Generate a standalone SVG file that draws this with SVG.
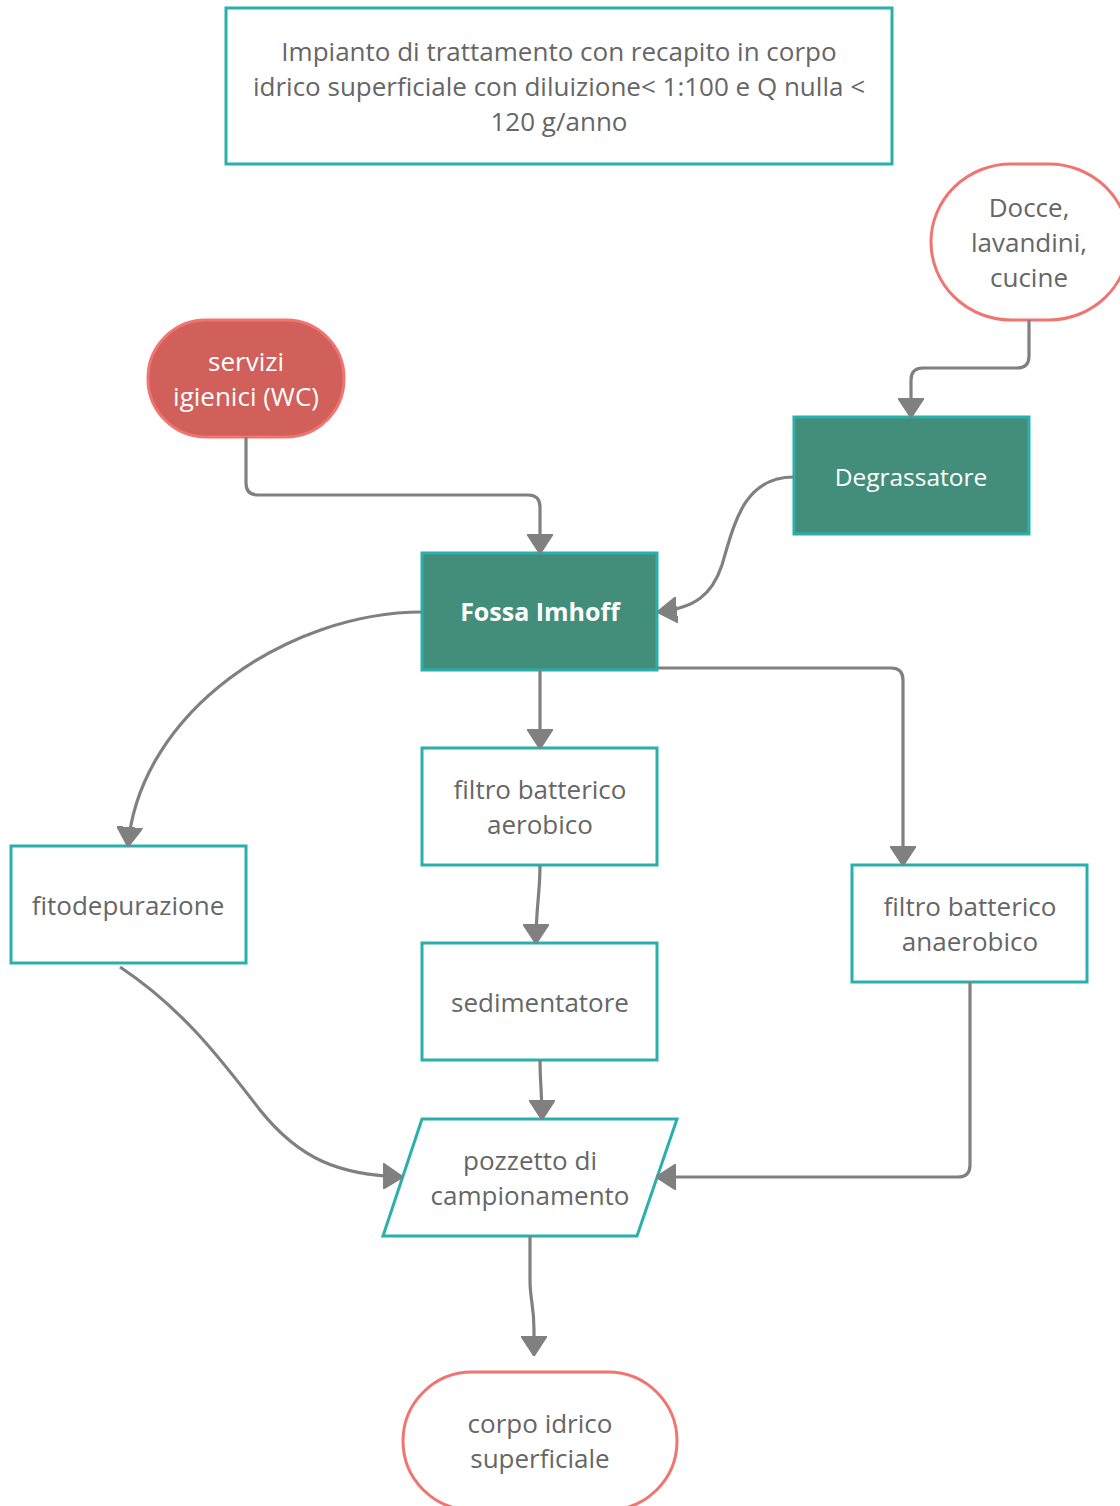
<svg xmlns="http://www.w3.org/2000/svg" width="1120" height="1506" viewBox="0 0 1120 1506">
<defs>
<marker id="arr" markerUnits="userSpaceOnUse" viewBox="0 0 20 26" refX="19" refY="13" markerWidth="20" markerHeight="26" orient="auto">
<path d="M0,0 L20,13 L0,26 Z" fill="#808080" stroke="#808080" stroke-width="1.5" stroke-linejoin="round"/>
</marker>
<style>
.t{font-family:"Open Sans","Noto Sans","Liberation Sans",sans-serif;font-size:26px;fill:#666666;text-anchor:middle}
.w{fill:#ffffff}
.b{font-weight:bold;font-size:25px}
.box{fill:#ffffff;stroke:#2ab0ac;stroke-width:3}
.dark{fill:#438e7a;stroke:#2ab0ac;stroke-width:3}
.term{fill:#ffffff;stroke:#f07470;stroke-width:3}
.red{fill:#d15f5a;stroke:#f07470;stroke-width:3}
.c{fill:none;stroke:#808080;stroke-width:3.2;marker-end:url(#arr)}
</style>
</defs>
<rect width="1120" height="1506" fill="#ffffff"/>
<g id="title">
<rect class="box" x="226" y="8" width="666" height="156"/>
<text class="t" x="559" y="61">Impianto di trattamento con recapito in corpo</text>
<text class="t" x="559" y="96">idrico superficiale con diluizione&lt; 1:100 e Q nulla &lt;</text>
<text class="t" x="559" y="131">120 g/anno</text>
</g>
<g id="docce">
<rect class="term" x="931" y="164" width="198" height="156" rx="80" ry="78"/>
<text class="t" x="1029" y="217">Docce,</text>
<text class="t" x="1029" y="252">lavandini,</text>
<text class="t" x="1029" y="287">cucine</text>
</g>
<g id="servizi">
<rect class="red" x="148" y="320" width="196" height="117" rx="58" ry="58"/>
<text class="t w" x="246" y="371">servizi</text>
<text class="t w" x="246" y="406">igienici (WC)</text>
</g>
<g id="degrassatore">
<rect class="dark" x="794" y="417" width="235" height="117"/>
<text class="t w" x="911" y="486" style="font-size:24.5px">Degrassatore</text>
</g>
<g id="fossa">
<rect class="dark" x="422" y="553" width="235" height="117"/>
<text class="t w b" x="540" y="621">Fossa Imhoff</text>
</g>
<g id="aerobico">
<rect class="box" x="422" y="748" width="235" height="117"/>
<text class="t" x="540" y="799">filtro batterico</text>
<text class="t" x="540" y="834">aerobico</text>
</g>
<g id="fitodepurazione">
<rect class="box" x="11" y="846" width="235" height="117"/>
<text class="t" x="128" y="915">fitodepurazione</text>
</g>
<g id="anaerobico">
<rect class="box" x="852" y="865" width="235" height="117"/>
<text class="t" x="970" y="916">filtro batterico</text>
<text class="t" x="970" y="951">anaerobico</text>
</g>
<g id="sedimentatore">
<rect class="box" x="422" y="943" width="235" height="117"/>
<text class="t" x="540" y="1012">sedimentatore</text>
</g>
<g id="pozzetto">
<polygon class="box" points="422,1119 677,1119 637,1236 383,1236"/>
<text class="t" x="530" y="1170">pozzetto di</text>
<text class="t" x="530" y="1205">campionamento</text>
</g>
<g id="corpo">
<rect class="term" x="403" y="1372" width="274" height="138" rx="69" ry="69"/>
<text class="t" x="540" y="1433">corpo idrico</text>
<text class="t" x="540" y="1468">superficiale</text>
</g>
<g id="connectors">
<path class="c" d="M1029,320 V356 Q1029,368 1017,368 H923 Q911,368 911,380 V417"/>
<path class="c" d="M246,437 V483 Q246,495 258,495 H528 Q540,495 540,507 V553"/>
<path class="c" d="M794,477 C745,477 735,520 722,565 C712,595 695,608 658,612"/>
<path class="c" d="M422,612 C290,612 140,710 128,846"/>
<path class="c" d="M540,670 V748"/>
<path class="c" d="M657,668 H891 Q903,668 903,680 V865"/>
<path class="c" d="M540,865 C540,895 536,905 536,943"/>
<path class="c" d="M540,1060 C540,1085 542,1090 542,1119"/>
<path class="c" d="M120,967 C185,1010 225,1065 260,1110 C300,1160 340,1175 402,1177"/>
<path class="c" d="M970,982 V1165 Q970,1177 958,1177 H657"/>
<path class="c" d="M530,1236 V1280 C530,1300 534,1305 534,1330 V1355"/>
</g>
</svg>
